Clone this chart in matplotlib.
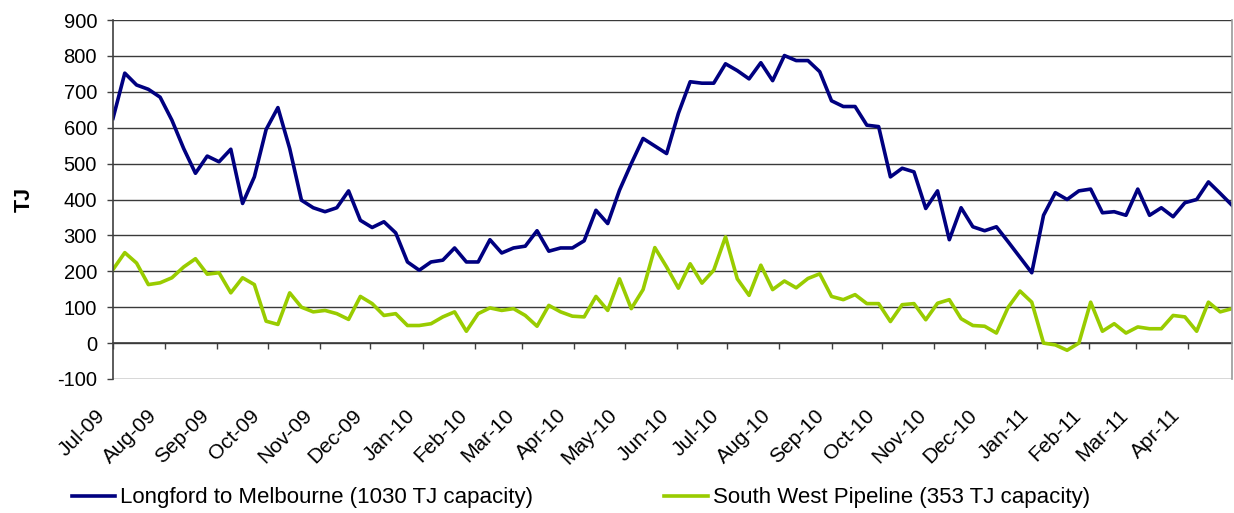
import matplotlib
matplotlib.use("Agg")
import matplotlib.pyplot as plt
import matplotlib.dates as mdates
import matplotlib.transforms as mtransforms
import pandas as pd

plt.rcParams['font.family'] = ['Liberation Sans', 'DejaVu Sans']
plt.rcParams['axes.unicode_minus'] = False

start_date = "2009-07-01"
n_weeks = 96

longford = [626, 752, 719, 707, 685, 621, 542, 473, 521, 505,
            540, 389, 463, 595, 656, 542, 398, 377, 366, 377,
            424, 342, 322, 338, 307, 226, 203, 226, 231, 265,
            226, 226, 288, 251, 265, 270, 313, 256, 265, 265,
            285, 370, 333, 426, 500, 570, 549, 528, 640, 728,
            724, 724, 778, 759, 736, 781, 731, 801, 787, 787,
            756, 675, 659, 659, 607, 603, 463, 487, 477, 375,
            424, 288, 377, 324, 313, 324, 282, 239, 196, 356,
            419, 400, 424, 429, 363, 366, 356, 429, 356, 377,
            352, 391, 400, 449, 417, 384]

south_west = [205, 252, 223, 163, 168, 182, 212, 235, 192, 196,
              140, 182, 163, 61, 52, 140, 100, 87, 91, 82,
              66, 130, 110, 77, 82, 49, 49, 54, 73, 87,
              33, 82, 98, 91, 96, 77, 47, 105, 87, 75,
              73, 130, 91, 179, 96, 149, 266, 212, 153, 221,
              167, 203, 296, 179, 133, 217, 149, 173, 154, 180,
              193, 130, 121, 135, 110, 110, 60, 107, 110, 65,
              111, 121, 68, 49, 47, 28, 100, 145, 114, 0,
              -5, -20, 0, 114, 33, 54, 28, 45, 40, 40,
              77, 73, 33, 114, 87, 96]

series_names = ["Longford to Melbourne (1030 TJ capacity)",
                "South West Pipeline (353 TJ capacity)"]
y_ticks = list(range(-100, 901, 100))

dates = pd.date_range(start_date, periods=n_weeks, freq="7D")

W, H = 1234, 513
fig = plt.figure(figsize=(W / 100, H / 100), dpi=100)
ax = fig.add_axes([113 / W, 1 - 379 / H, (1232 - 113) / W, (379 - 20) / H])

ax.plot(dates, longford, color="#000080", lw=2.6, label=series_names[0])
ax.plot(dates, south_west, color="#99CC00", lw=2.6, label=series_names[1])

ax.set_ylim(-100, 900)
ax.set_xlim(dates[0], dates[-1])
ax.set_yticks(y_ticks)
ax.yaxis.grid(True, color="#3a3a3a", lw=1.0)
ax.set_axisbelow(True)

for s in ["top", "bottom"]:
    ax.spines[s].set_visible(False)
ax.spines["left"].set_color("#404040")
ax.spines["left"].set_linewidth(1.2)
ax.spines["right"].set_color("#999999")
ax.spines["right"].set_linewidth(1.2)

ax.tick_params(axis="y", direction="out", length=4.5, width=1, color="#404040",
               labelsize=14.5, pad=7)

ax.xaxis.set_major_locator(mdates.MonthLocator())
ax.xaxis.set_major_formatter(mdates.DateFormatter("%b-%y"))
ax.tick_params(axis="x", length=0, labelsize=15, pad=24)

# axis line at zero with tick marks
sec = ax.secondary_xaxis(0.1)
sec.xaxis.set_major_locator(mdates.MonthLocator())
sec.tick_params(axis="x", direction="out", length=4.5, width=1, color="#404040", labelbottom=False)
sec.spines["bottom"].set_color("#404040")
sec.spines["bottom"].set_linewidth(1.2)

ax.set_ylabel("TJ", fontsize=15.5, fontweight="bold", labelpad=16)

fig.legend(loc="center left", bbox_to_anchor=(72 / W, 1 - 498 / H), ncol=2,
           frameon=False, fontsize=16, handlelength=1.95, handletextpad=0.22,
           columnspacing=5.9, borderaxespad=0, borderpad=0)

fig.canvas.draw()
shift = mtransforms.ScaledTranslation(-11 / 100, 0, fig.dpi_scale_trans)
for tick in ax.xaxis.get_major_ticks():
    lab = tick.label1
    lab.set_rotation(45)
    lab.set_ha("right")
    lab.set_va("center")
    lab.set_rotation_mode("anchor")
    lab.set_transform(lab.get_transform() + shift)

fig.savefig("out.png", dpi=100)
